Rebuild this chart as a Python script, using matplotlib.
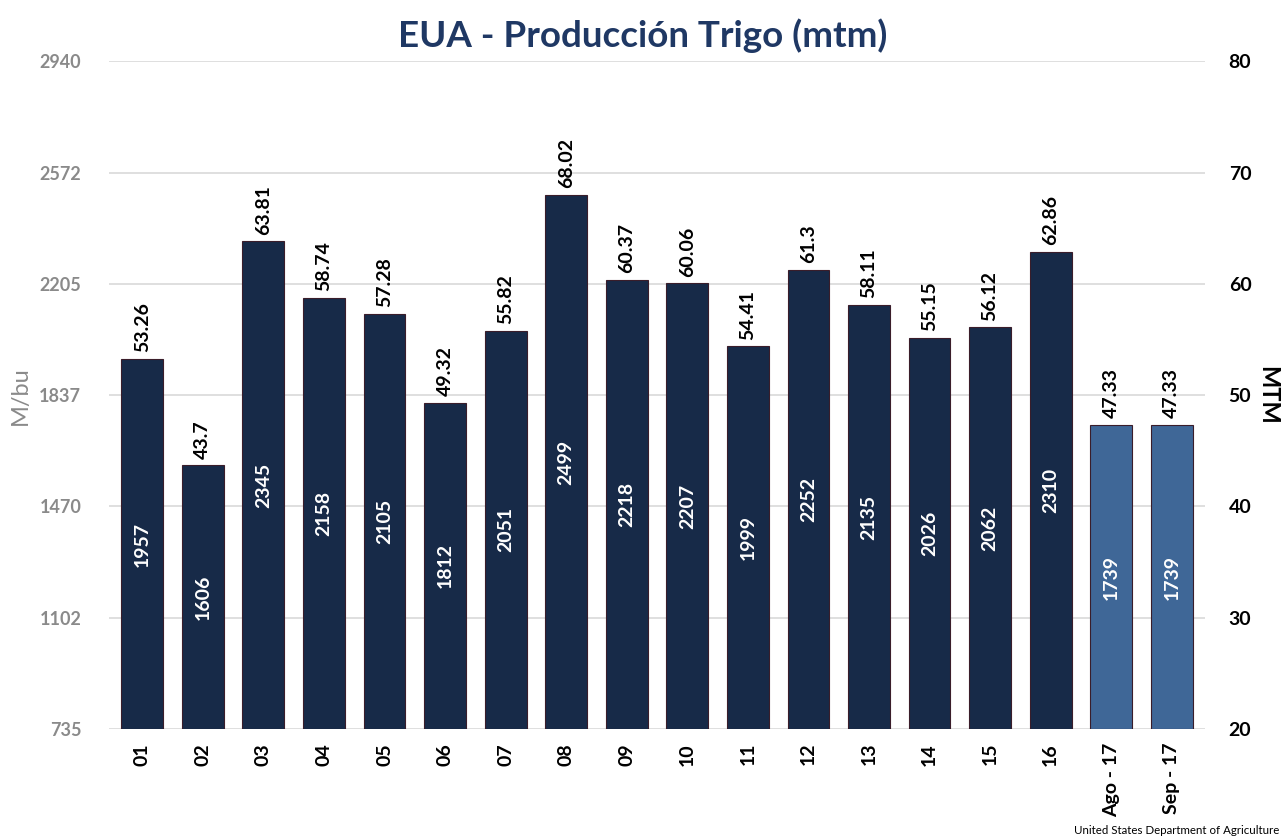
import matplotlib
matplotlib.use('Agg')
import matplotlib.pyplot as plt
import numpy as np

plt.rcParams['font.family'] = ['Lato', 'DejaVu Sans']

labels = ['01', '02', '03', '04', '05', '06', '07', '08', '09', '10',
          '11', '12', '13', '14', '15', '16', 'Ago - 17', 'Sep - 17']
production = [1957, 1606, 2345, 2158, 2105, 1812, 2051, 2499, 2218, 2207,
              1999, 2252, 2135, 2026, 2062, 2310, 1739, 1739]
mtm = ['53.26', '43.7', '63.81', '58.74', '57.28', '49.32', '55.82', '68.02', '60.37', '60.06',
       '54.41', '61.3', '58.11', '55.15', '56.12', '62.86', '47.33', '47.33']
left_ticks = [735, 1102, 1470, 1837, 2205, 2572, 2940]
right_ticks = [20, 30, 40, 50, 60, 70, 80]

dark = '#172a48'
light = '#3f6797'
colors = [dark] * 16 + [light] * 2

fig = plt.figure(figsize=(12.85, 8.39), dpi=100)
ax = fig.add_axes([0.0848, 0.131, 0.853, 0.796])
x = np.arange(len(labels))
bars = ax.bar(x, np.array(production) - 735, bottom=735, width=0.69,
              color=colors, edgecolor='#3a1d2a', linewidth=0.8, zorder=3)

for xi, v, m in zip(x, production, mtm):
    ax.text(xi, v + 22, m, rotation=90, ha='center', va='bottom',
            fontsize=14, fontweight='bold', color='black')
    ax.text(xi, (v + 735) / 2, str(v), rotation=90, ha='center', va='center',
            fontsize=14, fontweight='bold', color='white')

ax.set_ylim(735, 2940)
ax.set_xlim(-0.55, len(labels) - 0.45)
ax.set_yticks(left_ticks)
ax.set_yticklabels([str(t) for t in left_ticks], fontsize=13, fontweight='bold', color='#8a8a8a')
ax.set_xticks(x)
ax.set_xticklabels(labels, rotation=90, fontsize=14, fontweight='bold')
ax.tick_params(axis='y', length=0, pad=20)
ax.tick_params(axis='x', length=0, pad=10)
ax.grid(axis='y', color='#d9d9d9', linewidth=1.2, zorder=0)
for s in ax.spines.values():
    s.set_visible(False)
ax.set_ylabel('M/bu', fontsize=17, color='#8a8a8a', labelpad=6)

ax2 = ax.twinx()
ax2.set_ylim(20, 80)
ax2.set_yticks(right_ticks)
ax2.set_yticklabels([str(t) for t in right_ticks], fontsize=14, fontweight='bold')
ax2.tick_params(axis='y', length=0, pad=17)
for s in ax2.spines.values():
    s.set_visible(False)
ax2.set_ylabel('MTM', fontsize=17, fontweight='bold', rotation=270, labelpad=20)

fig.text(0.5, 0.957, 'EUA - Producción Trigo (mtm)', ha='center', va='center',
         fontsize=26.5, fontweight='bold', color='#1f3864')
fig.text(0.996, 0.003, 'United States Department of Agriculture', ha='right', va='bottom',
         fontsize=8.3, color='black')

fig.savefig('out.png', dpi=100)
